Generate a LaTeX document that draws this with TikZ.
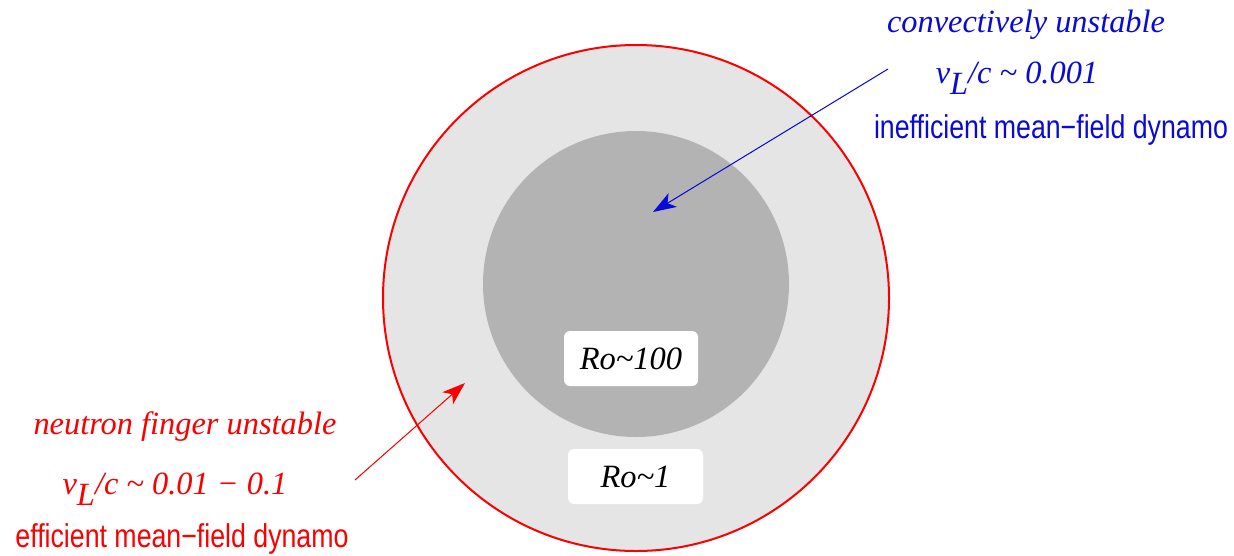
\documentclass[tikz,border=0pt]{standalone}
\usepackage{fontspec}
\usepackage{graphicx}
\setmainfont{Liberation Serif}
\setsansfont{Liberation Sans}
\usetikzlibrary{arrows.meta}
\definecolor{outergray}{RGB}{229,229,229}
\definecolor{innergray}{RGB}{179,179,179}
\definecolor{lblue}{RGB}{10,10,215}
\definecolor{lred}{RGB}{250,0,0}
\newcommand{\vLsub}{v\raisebox{-11pt}{L}}
\newcommand{\narrowtext}[1]{\scalebox{0.81}[1]{#1}}
\tikzset{
  itlabel/.style={font=\fontsize{32.4}{36}\selectfont\itshape, anchor=base, inner sep=0pt},
  sflabel/.style={font=\fontsize{33}{36}\selectfont\sffamily, anchor=base, inner sep=0pt},
  robox/.style={fill=white, rounded corners=6pt, minimum width=134pt, minimum height=55pt, inner sep=0pt, font=\fontsize{32.5}{34}\selectfont\itshape},
  pointer/.style={line width=1pt, -{Stealth[length=23pt,width=16pt,inset=6pt]}}
}
\begin{document}
\begin{tikzpicture}[x=1pt,y=-1pt]
\useasboundingbox (0,0) rectangle (1234,555);
% circles
\node[circle, draw=lred, line width=2pt, fill=outergray, minimum size=506pt, inner sep=0pt] (outer) at (636,298) {};
\node[circle, fill=innergray, minimum size=306pt, inner sep=0pt] (inner) at (636,284) {};
% Ro boxes
\node[robox] (ro100) at (631,358.5) {Ro\textasciitilde100};
\node[robox, minimum width=135pt] (ro1) at (635.5,476.5) {Ro\textasciitilde1};
% blue labels
\node[itlabel, text=lblue] (conv) at (1026,32) {convectively unstable};
\node[itlabel, text=lblue] (vlb) at (1017,83) {\vLsub/c \textasciitilde{} 0.001};
\node[sflabel, text=lblue] (ineff) at (1051,138) {\narrowtext{inefficient mean−field dynamo}};
% red labels
\node[itlabel, text=lred] (neut) at (185,434) {neutron finger unstable};
\node[itlabel, text=lred] (vlr) at (175,494) {\vLsub/c \textasciitilde{} 0.01 − 0.1};
\node[sflabel, text=lred] (eff) at (182,547) {\narrowtext{efficient mean−field dynamo}};
% arrows
\coordinate (btail) at (888,69);
\coordinate (bhead) at (653,212);
\coordinate (rtail) at (355,480);
\coordinate (rhead) at (465,383);
\draw[pointer, draw=lblue, fill=lblue] (btail) -- (bhead);
\draw[pointer, draw=lred, fill=lred] (rtail) -- (rhead);
\end{tikzpicture}
\end{document}
